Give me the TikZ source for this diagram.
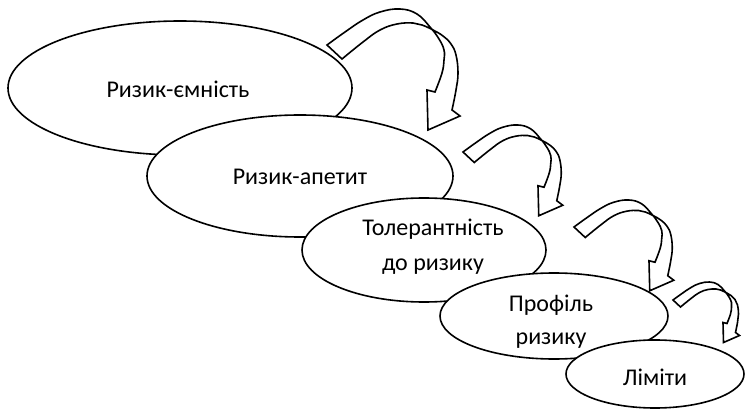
\documentclass[tikz,border=0pt]{standalone}
\usepackage{fontspec}
\setmainfont{Carlito}
\usetikzlibrary{shapes.geometric}
\tikzset{
  oval/.style={ellipse, draw, fill=white, line width=1.6pt, inner sep=0pt},
  lbl/.style={align=center, inner sep=0pt},
  arrowline/.style={draw, line width=1.6pt, line join=miter},
  curvarrow/.pic={
    \draw[arrowline]
      plot[smooth, tension=0.7] coordinates {(0,0) (18,-13) (36,-25) (53,-33) (73,-36) (90,-31) (103,-18) (112,-6) (117,5) (117,15) (115,28) (108,47)}
      -- (100,45) -- (101,85) -- (133,71) -- (125,65)
      -- plot[smooth, tension=0.7] coordinates {(125,65) (129,45) (131,28) (129,10) (124,-1) (116,-9) (106,-15) (95,-20) (86,-22) (70,-21) (53,-15) (36,-3) (15,14)}
      -- cycle;
  }
}
\begin{document}
\begin{tikzpicture}[x=1pt,y=-1pt]
\useasboundingbox (0,0) rectangle (745,409);
% ovals, each drawn over the previous one
\node[oval, minimum width=344pt, minimum height=134pt] (e1) at (180,88) {};
\node[oval, minimum width=306pt, minimum height=122pt] (e2) at (300,176) {};
\node[oval, minimum width=244pt, minimum height=104pt] (e3) at (424,250) {};
\node[oval, minimum width=228pt, minimum height=86pt] (e4) at (554,316) {};
\node[oval, minimum width=178pt, minimum height=68pt] (e5) at (655,374) {};
% labels
\node[lbl, anchor=base, font=\fontsize{24}{35}\selectfont] (t1) at (178,98) {Ризик-ємність};
\node[lbl, anchor=base, font=\fontsize{24}{35}\selectfont] (t2) at (300,185) {Ризик-апетит};
\node[lbl, font=\fontsize{24}{35}\selectfont] (t3) at (433,247) {Толерантність\\до ризику};
\node[lbl, font=\fontsize{24}{33}\selectfont] (t4) at (551,322) {Профіль\\ризику};
\node[lbl, anchor=base, font=\fontsize{24}{35}\selectfont] (t5) at (655,385) {Ліміти};
% curved arrows
\pic (a1) at (327,45) {curvarrow};
\pic[scale=0.75] (a2) at (463,152) {curvarrow};
\pic[scale=0.75] (a3) at (574,227) {curvarrow};
\pic[scale=0.5] (a4) at (673,300) {curvarrow};
\end{tikzpicture}
\end{document}
